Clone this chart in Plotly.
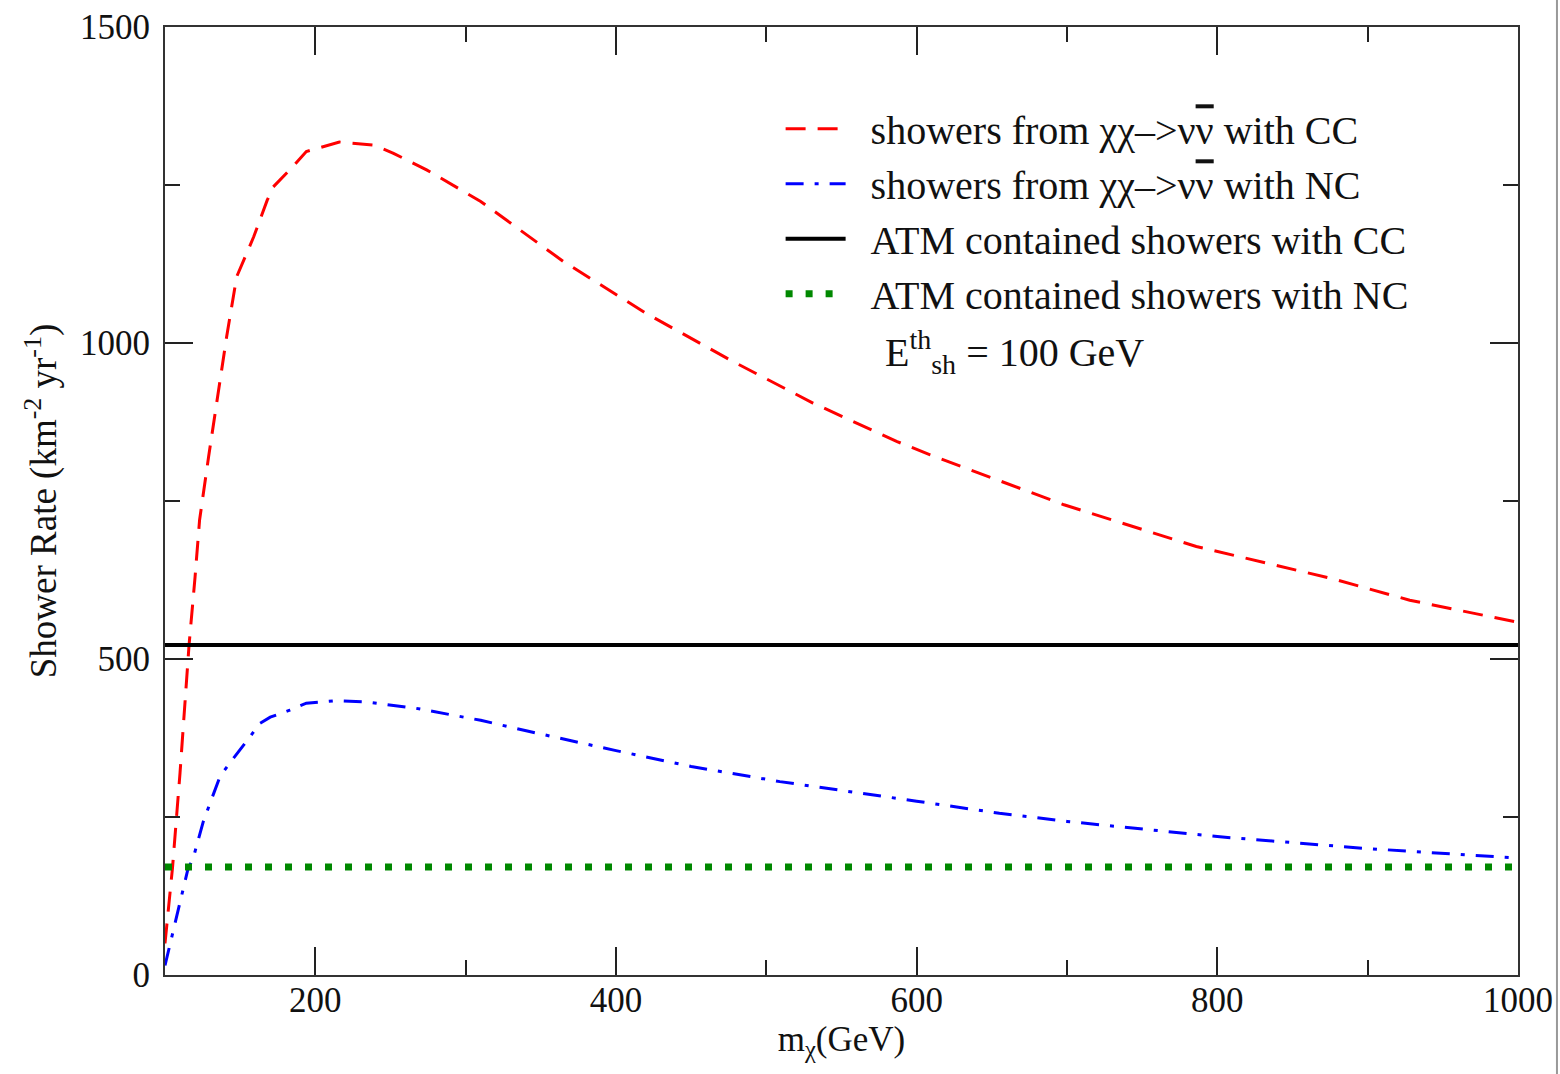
import plotly.graph_objects as go

# ---- data ----
cc_mass = [100, 105, 110, 116, 120, 123, 129, 135.5, 141, 147.7, 159, 168, 172, 185, 194,
           216, 239, 252, 274, 310, 365, 420, 476, 531, 587, 609, 698, 786, 875, 928, 1000]
cc_rate = [50, 170, 320, 522, 630, 720, 820, 921, 1010, 1105, 1168, 1226, 1247, 1279, 1303,
           1318, 1313, 1300, 1274, 1224, 1129, 1047, 973, 905, 844, 823, 744, 678, 628, 593, 558]

nc_mass = [100, 105, 110, 115, 119, 125.5, 130, 136.6, 143, 150, 156.6, 163, 170, 183, 194,
           214, 234, 267, 310, 341, 363, 400, 450, 509, 600, 655, 700, 800, 900, 932, 1000]
nc_rate = [15, 65, 115, 165, 187, 243, 272, 314, 335, 356, 377, 398, 408, 419, 430,
           434, 432, 422, 403, 386, 374, 355, 330, 306, 275, 256, 243, 219, 200, 195, 185]

atm_mass = [100, 1000]
atm_cc_rate = [522, 522]
atm_nc_rate = [171, 171]

NUBAR = '<span style="text-decoration:overline">ν</span>'
legend_names = [
    "\u00a0\u00a0showers from χχ–>ν" + NUBAR + " with CC",
    "\u00a0\u00a0showers from χχ–>ν" + NUBAR + " with NC",
    "\u00a0\u00a0ATM contained showers with CC",
    "\u00a0\u00a0ATM contained showers with NC",
]

FONT = "Liberation Serif"

fig = go.Figure()
fig.add_trace(go.Scatter(x=cc_mass, y=cc_rate, mode="lines", name=legend_names[0],
                         line=dict(color="#ff0000", width=3, dash="20px,12px")))
fig.add_trace(go.Scatter(x=nc_mass, y=nc_rate, mode="lines", name=legend_names[1],
                         line=dict(color="#0000ff", width=3, dash="18px,11px,4px,11px")))
fig.add_trace(go.Scatter(x=atm_mass, y=atm_cc_rate, mode="lines", name=legend_names[2],
                         line=dict(color="#000000", width=4)))
fig.add_trace(go.Scatter(x=atm_mass, y=atm_nc_rate, mode="lines", name=legend_names[3],
                         line=dict(color="#008800", width=7, dash="7px,13px")))

axis_common = dict(
    showgrid=False, zeroline=False, showline=True, linecolor="#333333", linewidth=2,
    mirror="ticks", ticks="inside", tickcolor="#222222", tickwidth=2, ticklen=28,
    tickfont=dict(family=FONT, size=35, color="#111111"),
)

fig.update_xaxes(**axis_common, range=[100, 1000], tick0=0, dtick=200, ticklabelstandoff=-7,
                 minor=dict(dtick=100, ticks="inside", ticklen=15, tickwidth=2, tickcolor="#222222"),
                 title=dict(text="m<sub>χ</sub>(GeV)", font=dict(family=FONT, size=35, color="#111111"),
                            standoff=0))
fig.update_yaxes(**axis_common, range=[0, 1500], tick0=0, dtick=500, ticklabelstandoff=6,
                 minor=dict(dtick=250, ticks="inside", ticklen=15, tickwidth=2, tickcolor="#222222"),
                 title=dict(text="Shower Rate (km<sup>-2</sup> yr<sup>-1</sup>)",
                            font=dict(family=FONT, size=37, color="#111111"), standoff=12))

fig.add_annotation(xref="paper", yref="paper", x=0.531, y=0.657, xanchor="left", yanchor="middle",
                   text="E<sup>th</sup><sub>sh</sub> = 100 GeV", showarrow=False,
                   font=dict(family=FONT, size=40, color="#111111"))

# faint page border at right edge of the scan
fig.add_shape(type="line", xref="paper", yref="paper", x0=1.0288, x1=1.0288, y0=-0.11, y1=1.03,
              line=dict(color="#999999", width=2))

fig.update_layout(
    width=1560, height=1074,
    margin=dict(l=165, r=42, t=27, b=99, autoexpand=False),
    plot_bgcolor="white", paper_bgcolor="white",
    font=dict(family=FONT, color="#111111"),
    legend=dict(x=0.455, y=0.927, xanchor="left", yanchor="top", bgcolor="rgba(0,0,0,0)",
                font=dict(family=FONT, size=40, color="#111111"), itemwidth=60,
                tracegroupgap=0),
    showlegend=True,
)

fig.write_html("out.html", config={"displayModeBar": False},
               post_script="document.body.style.margin='0';document.documentElement.style.overflow='hidden';")
